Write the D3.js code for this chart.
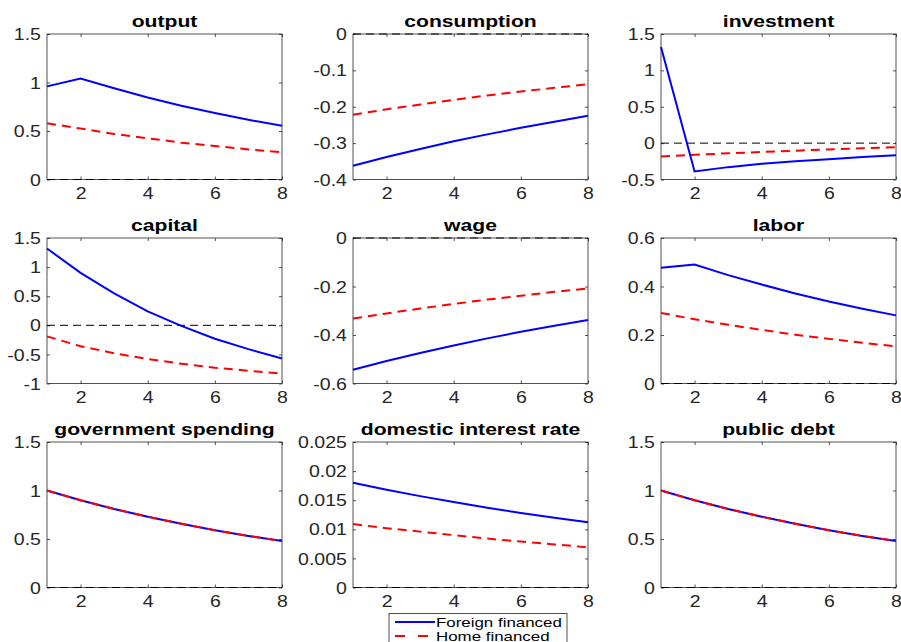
<!DOCTYPE html>
<html>
<head>
<meta charset="utf-8">
<script src="https://cdn.jsdelivr.net/npm/d3@7"></script>
<style>
  body { margin: 0; background: #fff; }
  text { font-family: "Liberation Sans", Arial, Helvetica, sans-serif; }
</style>
</head>
<body>
<div id="chart"></div>
<script>
// periods on the x axis
const periods = [1, 2, 3, 4, 5, 6, 7, 8];
const xTicks = [2, 4, 6, 8];

// panel titles
const titles = ["output", "consumption", "investment",
                "capital", "wage", "labor",
                "government spending", "domestic interest rate", "public debt"];

// impulse responses
const outputForeign  = [0.96, 1.04, 0.94, 0.845, 0.76, 0.685, 0.615, 0.555];
const outputHome     = [0.58, 0.525, 0.47, 0.425, 0.38, 0.345, 0.31, 0.28];
const consForeign    = [-0.362, -0.338, -0.316, -0.295, -0.276, -0.258, -0.241, -0.225];
const consHome       = [-0.222, -0.207, -0.194, -0.181, -0.169, -0.158, -0.148, -0.138];
const invForeign     = [1.32, -0.39, -0.33, -0.285, -0.25, -0.22, -0.19, -0.165];
const invHome        = [-0.185, -0.16, -0.14, -0.122, -0.104, -0.087, -0.071, -0.055];
const capitalForeign = [1.32, 0.90, 0.55, 0.24, -0.01, -0.23, -0.41, -0.57];
const capitalHome    = [-0.19, -0.36, -0.48, -0.58, -0.66, -0.73, -0.78, -0.83];
const wageForeign    = [-0.543, -0.507, -0.474, -0.443, -0.414, -0.387, -0.362, -0.338];
const wageHome       = [-0.332, -0.311, -0.291, -0.272, -0.254, -0.238, -0.222, -0.208];
const laborForeign   = [0.477, 0.491, 0.447, 0.408, 0.371, 0.338, 0.308, 0.281];
const laborHome      = [0.291, 0.265, 0.242, 0.221, 0.201, 0.184, 0.168, 0.153];
const govForeign     = [1.0, 0.90, 0.81, 0.73, 0.657, 0.591, 0.532, 0.479];
const govHome        = [1.0, 0.90, 0.81, 0.73, 0.657, 0.591, 0.532, 0.479];
const rateForeign    = [0.0180, 0.0168, 0.0157, 0.0147, 0.0137, 0.0128, 0.0120, 0.0112];
const rateHome       = [0.0109, 0.0102, 0.0096, 0.0090, 0.0084, 0.0079, 0.0074, 0.0069];
const debtForeign    = [1.0, 0.90, 0.81, 0.73, 0.657, 0.591, 0.532, 0.479];
const debtHome       = [1.0, 0.90, 0.81, 0.73, 0.657, 0.591, 0.532, 0.479];

const foreignSeries = [outputForeign, consForeign, invForeign, capitalForeign, wageForeign,
                       laborForeign, govForeign, rateForeign, debtForeign];
const homeSeries    = [outputHome, consHome, invHome, capitalHome, wageHome,
                       laborHome, govHome, rateHome, debtHome];

// y axis ranges and tick labels
const yDomains = [[0, 1.5], [-0.4, 0], [-0.5, 1.5],
                  [-1, 1.5], [-0.6, 0], [0, 0.6],
                  [0, 1.5], [0, 0.025], [0, 1.5]];
const yTicks = [[0, 0.5, 1, 1.5], [-0.4, -0.3, -0.2, -0.1, 0], [-0.5, 0, 0.5, 1, 1.5],
                [-1, -0.5, 0, 0.5, 1, 1.5], [-0.6, -0.4, -0.2, 0], [0, 0.2, 0.4, 0.6],
                [0, 0.5, 1, 1.5], [0, 0.005, 0.01, 0.015, 0.02, 0.025], [0, 0.5, 1, 1.5]];

const legendLabels = ["Foreign financed", "Home financed"];

const w = 901, h = 642;
const colLeft = [47, 353, 661];
const rowTop = [34, 238, 442];
const pw = 235, ph = 145.5;
const sx = 1.22;   // picture is stretched horizontally

const svg = d3.select("#chart").append("svg")
  .attr("width", w).attr("height", h);
svg.append("rect").attr("width", w).attr("height", h).attr("fill", "#fff");

const fmt = d => String(+d.toFixed(4));

titles.forEach((title, i) => {
  const x0 = colLeft[i % 3], y0 = rowTop[Math.floor(i / 3)];
  const g = svg.append("g").attr("transform", "translate(" + x0 + "," + y0 + ")");

  const xScale = d3.scaleLinear().domain([1, 8]).range([0, pw]);
  const yScale = d3.scaleLinear().domain(yDomains[i]).range([ph, 0]);

  // box
  g.append("rect").attr("width", pw).attr("height", ph)
    .attr("fill", "none").attr("stroke", "#262626").attr("stroke-width", 0.8);

  // inward ticks on all four sides
  const left = g.append("g").call(d3.axisLeft(yScale).tickValues(yTicks[i])
      .tickSizeInner(-3).tickSizeOuter(0).tickFormat(fmt));
  const right = g.append("g").attr("transform", "translate(" + pw + ",0)")
    .call(d3.axisRight(yScale).tickValues(yTicks[i]).tickSizeInner(-3).tickSizeOuter(0).tickFormat(""));
  const bottom = g.append("g").attr("transform", "translate(0," + ph + ")")
    .call(d3.axisBottom(xScale).tickValues(xTicks).tickSizeInner(-3).tickSizeOuter(0).tickFormat(d3.format("d")));
  const top = g.append("g")
    .call(d3.axisTop(xScale).tickValues(xTicks).tickSizeInner(-3).tickSizeOuter(0).tickFormat(""));

  [left, right, bottom, top].forEach(a => {
    a.select(".domain").remove();
    a.selectAll("line").attr("stroke", "#262626").attr("stroke-width", 0.8);
  });
  left.selectAll("text")
    .attr("x", -5).attr("dy", "0.35em")
    .attr("transform", "scale(" + sx + ",1)")
    .attr("font-size", 16).attr("fill", "#262626")
    .style("font-family", "'Liberation Sans', Arial, sans-serif");
  bottom.selectAll("text")
    .attr("y", 19.5).attr("dy", 0)
    .attr("transform", "scale(" + sx + ",1)")
    .attr("font-size", 16).attr("fill", "#262626")
    .style("font-family", "'Liberation Sans', Arial, sans-serif");

  // zero line
  if (yDomains[i][0] <= 0 && yDomains[i][1] >= 0) {
    g.append("line")
      .attr("x1", xScale(1)).attr("x2", xScale(8))
      .attr("y1", yScale(0)).attr("y2", yScale(0))
      .attr("stroke", "#000").attr("stroke-width", 1)
      .attr("stroke-dasharray", "8,5");
  }

  const line = d3.line().x((d, j) => xScale(periods[j])).y(d => yScale(d));

  g.append("path").datum(foreignSeries[i])
    .attr("d", line).attr("fill", "none")
    .attr("stroke", "#0000ff").attr("stroke-width", 2);
  g.append("path").datum(homeSeries[i])
    .attr("d", line).attr("fill", "none")
    .attr("stroke", "#ff0000").attr("stroke-width", 2)
    .attr("stroke-dasharray", "9,6");

  // title
  g.append("text")
    .attr("transform", "translate(" + (pw / 2) + ",-7) scale(1.28,1)")
    .attr("text-anchor", "middle")
    .attr("font-size", 16.5).attr("font-weight", "bold").attr("fill", "#000")
    .text(title);
});

// legend
const legend = svg.append("g").attr("transform", "translate(389,613.5)");
legend.append("rect").attr("width", 178).attr("height", 40)
  .attr("fill", "#fff").attr("stroke", "#262626").attr("stroke-width", 0.8);
const legendStyles = [{ color: "#0000ff", dash: null }, { color: "#ff0000", dash: "10,13" }];
legendLabels.forEach((label, i) => {
  const ly = 8.5 + i * 14;
  legend.append("line")
    .attr("x1", 6).attr("x2", 46).attr("y1", ly).attr("y2", ly)
    .attr("stroke", legendStyles[i].color).attr("stroke-width", 2)
    .attr("stroke-dasharray", legendStyles[i].dash);
  legend.append("text")
    .attr("transform", "translate(47," + (ly + 4.6) + ") scale(1.3,1)")
    .attr("font-size", 13).attr("fill", "#000")
    .text(label);
});
</script>
</body>
</html>
